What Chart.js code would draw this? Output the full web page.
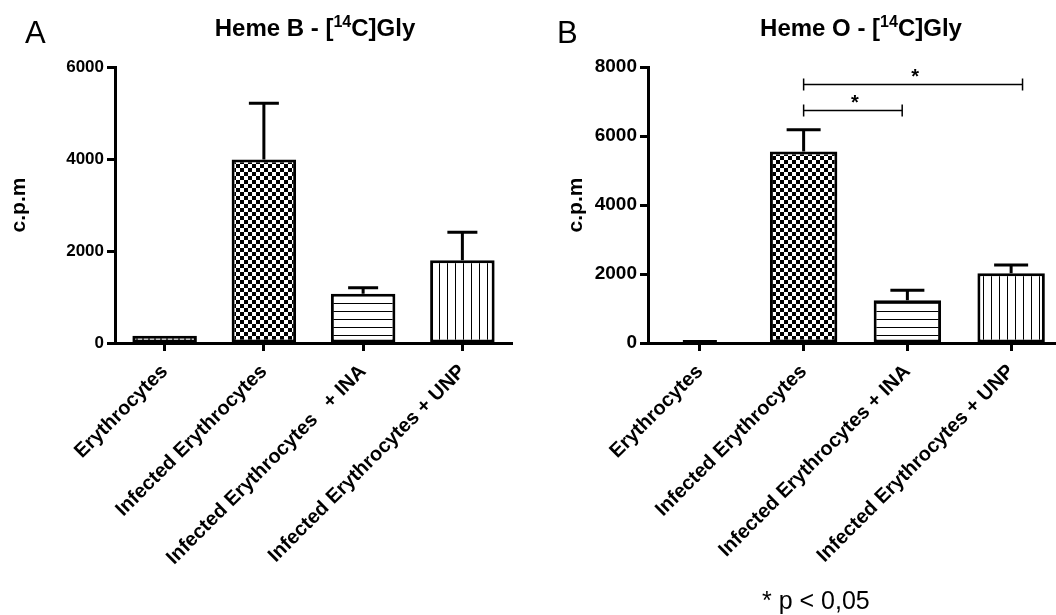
<!DOCTYPE html>
<html>
<head>
<meta charset="utf-8">
<script src="https://cdn.jsdelivr.net/npm/chart.js@4.4.1/dist/chart.umd.min.js"></script>
<style>
  html, body { margin: 0; padding: 0; background: #fff; overflow: hidden; width: 1056px; height: 615px; position: relative; }
  canvas { position: absolute; top: 0; }
  #chartA { left: 0; }
  #chartB { left: 528px; }
</style>
</head>
<body>
<canvas id="chartA" width="528" height="615"></canvas>
<canvas id="chartB" width="540" height="615"></canvas>
<script>
// Categories (x axis)
const categoriesA = ['Erythrocytes', 'Infected Erythrocytes', 'Infected Erythrocytes   + INA', 'Infected Erythrocytes + UNP'];
const categoriesB = ['Erythrocytes', 'Infected Erythrocytes', 'Infected Erythrocytes + INA', 'Infected Erythrocytes + UNP'];

// Heme B incorporation of [14C]Gly, c.p.m (mean and upper error)
const hemeBMean = [160, 3990, 1070, 1800];
const hemeBErr  = [0, 1220, 130, 605];

// Heme O incorporation of [14C]Gly, c.p.m (mean and upper error)
const hemeOMean = [0, 5550, 1240, 2020];
const hemeOErr  = [45, 630, 290, 240];

// Y-axis tick values
const yTicksA = [0, 2000, 4000, 6000];
const yTicksB = [0, 2000, 4000, 6000, 8000];

// Significance brackets on panel B (category positions and height in c.p.m)
const sigFrom  = [1, 1];
const sigTo    = [1.95, 3.11];
const sigLevel = [6750, 7500];
const sigMark  = ['*', '*'];

// Titles: [before superscript, superscript, after superscript]
const titleA = ['Heme B - [', '14', 'C]Gly'];
const titleB = ['Heme O - [', '14', 'C]Gly'];
const pNote = '* p < 0,05';

const FONT = '"Liberation Sans", Arial, Helvetica, sans-serif';

// Fill patterns for the bars
function makePattern(ctx, w, h, draw) {
  const tile = document.createElement('canvas');
  tile.width = w; tile.height = h;
  const g = tile.getContext('2d');
  g.fillStyle = '#fff'; g.fillRect(0, 0, w, h);
  g.fillStyle = '#000';
  draw(g);
  return ctx.createPattern(tile, 'repeat');
}
function patternSet(ctx) {
  return [
    makePattern(ctx, 6, 3, g => { g.fillRect(4, 0, 2, 3); }),                     // dotted
    makePattern(ctx, 8, 8, g => { g.fillRect(0, 0, 4, 4); g.fillRect(4, 4, 4, 4); }), // checkerboard
    makePattern(ctx, 8, 8, g => { g.fillRect(0, 7, 8, 1); }),                      // horizontal lines
    makePattern(ctx, 8, 8, g => { g.fillRect(7, 0, 1, 8); })                       // vertical lines
  ];
}

// Upper error bars
const errorBars = {
  id: 'errorBars',
  afterDatasetsDraw(chart, args, opts) {
    const ctx = chart.ctx, y = chart.scales.y;
    const meta = chart.getDatasetMeta(0);
    const means = chart.data.datasets[0].data;
    ctx.save();
    ctx.strokeStyle = '#000';
    ctx.lineWidth = 3;
    meta.data.forEach((bar, i) => {
      if (!opts.errors[i]) return;
      const base = y.getPixelForValue(means[i]);
      const top = y.getPixelForValue(means[i] + opts.errors[i]);
      ctx.beginPath();
      ctx.moveTo(bar.x, base); ctx.lineTo(bar.x, top);
      ctx.moveTo(bar.x - opts.cap / 2, top); ctx.lineTo(bar.x + opts.cap / 2, top);
      ctx.stroke();
    });
    ctx.restore();
  }
};

// Panel letter, title with superscript, significance brackets and footnote
const panelDecor = {
  id: 'panelDecor',
  afterDraw(chart, args, o) {
    const ctx = chart.ctx;
    ctx.save();
    ctx.fillStyle = '#000';
    ctx.textBaseline = 'alphabetic';
    ctx.textAlign = 'left';
    ctx.font = '31px ' + FONT;
    ctx.fillText(o.letter, o.letterX, 43);

    const big = 'bold 24px ' + FONT, small = 'bold 16px ' + FONT;
    ctx.font = big; const w0 = ctx.measureText(o.title[0]).width;
    ctx.font = small; const w1 = ctx.measureText(o.title[1]).width;
    ctx.font = big; const w2 = ctx.measureText(o.title[2]).width;
    let x = o.titleX - (w0 + w1 + w2) / 2;
    ctx.font = big; ctx.fillText(o.title[0], x, 36); x += w0;
    ctx.font = small; ctx.fillText(o.title[1], x, 27); x += w1;
    ctx.font = big; ctx.fillText(o.title[2], x, 36);

    if (o.brackets) {
      const xs = chart.scales.x, ys = chart.scales.y;
      ctx.strokeStyle = '#000';
      ctx.lineWidth = 1.5;
      o.brackets.from.forEach((f, i) => {
        const x1 = xs.getPixelForValue(f), x2 = xs.getPixelForValue(o.brackets.to[i]);
        const yy = Math.round(ys.getPixelForValue(o.brackets.level[i])) + 0.5;
        ctx.beginPath();
        ctx.moveTo(x1, yy); ctx.lineTo(x2, yy);
        ctx.moveTo(x1, yy - 6); ctx.lineTo(x1, yy + 6);
        ctx.moveTo(x2, yy - 6); ctx.lineTo(x2, yy + 6);
        ctx.stroke();
        ctx.font = 'bold 20px ' + FONT;
        ctx.textAlign = 'center';
        ctx.fillText(o.brackets.mark[i], (x1 + x2) / 2 + 2, yy - 2);
      });
    }
    if (o.note) {
      ctx.textAlign = 'left';
      ctx.font = '25px ' + FONT;
      ctx.fillText(o.note, o.noteX, 609);
    }
    ctx.restore();
  }
};

function buildChart(id, labels, means, errs, ticks, yMax, yWidth, rightPad, tickSize, titleOffset, decor) {
  const canvas = document.getElementById(id);
  const ctx = canvas.getContext('2d');
  return new Chart(ctx, {
    type: 'bar',
    data: {
      labels: labels,
      datasets: [{
        data: means,
        backgroundColor: patternSet(ctx),
        borderColor: '#000',
        borderWidth: 3,
        borderSkipped: false,
        categoryPercentage: 1.0,
        barPercentage: 0.65
      }]
    },
    options: {
      responsive: false,
      devicePixelRatio: 1,
      animation: false,
      layout: { padding: { top: 67, right: rightPad, left: 0, bottom: 0 } },
      plugins: {
        legend: { display: false },
        tooltip: { enabled: false },
        errorBars: { errors: errs, cap: decor.cap },
        panelDecor: decor
      },
      scales: {
        x: {
          grid: { display: true, drawOnChartArea: false, drawTicks: true, tickLength: 8, tickWidth: 3, tickColor: '#000', offset: false },
          border: { display: true, width: 3, color: '#000' },
          ticks: { color: '#000', font: { family: FONT, size: 20, weight: 'bold' }, minRotation: 45, maxRotation: 45, autoSkip: false, padding: 9 },
          afterFit: s => { s.height = 272; }
        },
        y: {
          min: 0, max: yMax,
          afterBuildTicks: s => { s.ticks = ticks.map(v => ({ value: v })); },
          grid: { display: true, drawOnChartArea: false, drawTicks: true, tickLength: 8, tickWidth: 3, tickColor: '#000' },
          border: { display: true, width: 3, color: '#000' },
          ticks: { color: '#000', font: { family: FONT, size: tickSize, weight: 'bold' }, padding: 3, callback: v => String(v) },
          title: { display: true, text: 'c.p.m', color: '#000', font: { family: FONT, size: 21, weight: 'bold' }, padding: { top: titleOffset, bottom: 0 } },
          afterFit: s => { s.width = yWidth; }
        }
      }
    },
    plugins: [errorBars, panelDecor]
  });
}

buildChart('chartA', categoriesA, hemeBMean, hemeBErr, yTicksA, 6000, 115, 16, 17, 7,
  { letter: 'A', letterX: 25, title: titleA, titleX: 315, cap: 30 });

buildChart('chartB', categoriesB, hemeOMean, hemeOErr, yTicksB, 8000, 120, 5, 19, 36,
  { letter: 'B', letterX: 29, title: titleB, titleX: 333, cap: 34,
    brackets: { from: sigFrom, to: sigTo, level: sigLevel, mark: sigMark },
    note: pNote, noteX: 234 });
</script>
</body>
</html>
